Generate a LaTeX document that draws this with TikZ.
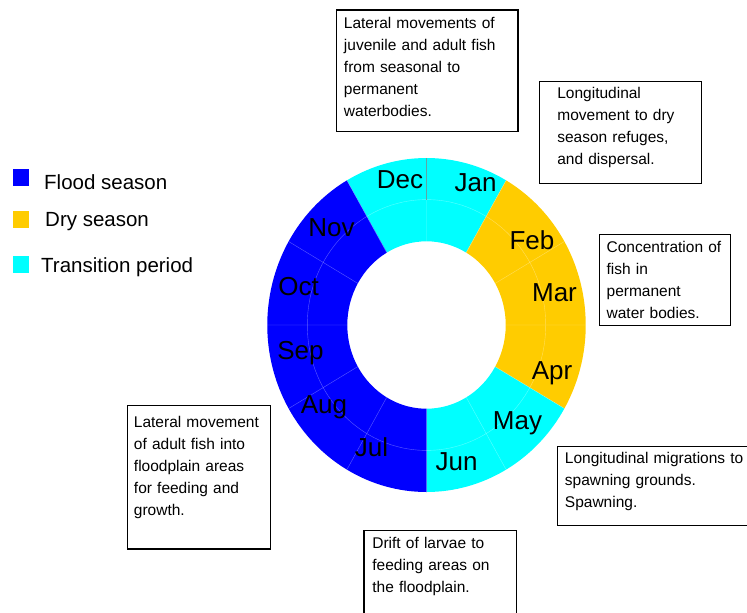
\documentclass[tikz,border=0pt]{standalone}
\usepackage{fontspec}
\setmainfont{Liberation Sans}
\usepackage{xcolor}
\usetikzlibrary{positioning}

\definecolor{floodblue}{HTML}{0000FF}
\definecolor{dryyellow}{HTML}{FFCC00}
\definecolor{transcyan}{HTML}{00FFFF}
\definecolor{tickteal}{HTML}{5FA5A5}

\begin{document}
\begin{tikzpicture}[
  x=1pt, y=-1pt,
  note/.style      ={draw, line width=1.3pt, align=left, anchor=north west,
                     inner ysep=0pt, font=\fontsize{15.5}{22}\selectfont},
  month/.style     ={inner sep=0pt, font=\fontsize{26}{30}\selectfont},
  legendkey/.style ={minimum width=16pt, minimum height=17pt, inner sep=0pt},
  legendtext/.style={anchor=base west, inner sep=0pt, font=\fontsize{20.5}{24}\selectfont},
  faint/.style     ={white, opacity=0.35, line width=0.4pt}
]
\useasboundingbox (0,0) rectangle (747,613);

%--- Seasonal ring ----------------------------------------------------------
\begin{scope}[shift={(426.5,325)}, y=1pt]
\fill[transcyan] (120:159.2 and 167) arc[start angle=120, end angle=60, x radius=159.2, y radius=167]
      -- (60:79.2 and 83.7) arc[start angle=60, end angle=120, x radius=79.2, y radius=83.7] -- cycle;
\fill[dryyellow] (60:159.2 and 167) arc[start angle=60, end angle=-30, x radius=159.2, y radius=167]
      -- (-30:79.2 and 83.7) arc[start angle=-30, end angle=60, x radius=79.2, y radius=83.7] -- cycle;
\fill[transcyan] (-30:159.2 and 167) arc[start angle=-30, end angle=-90, x radius=159.2, y radius=167]
      -- (-90:79.2 and 83.7) arc[start angle=-90, end angle=-30, x radius=79.2, y radius=83.7] -- cycle;
\fill[floodblue] (120:159.2 and 167) arc[start angle=120, end angle=270, x radius=159.2, y radius=167]
      -- (270:79.2 and 83.7) arc[start angle=270, end angle=120, x radius=79.2, y radius=83.7] -- cycle;

% month dividers and middle ring
\draw[faint] (0:159.2 and 167) -- (180:159.2 and 167)
             (30:159.2 and 167) -- (210:159.2 and 167)
             (60:159.2 and 167) -- (240:159.2 and 167)
             (90:159.2 and 167) -- (270:159.2 and 167)
             (120:159.2 and 167) -- (300:159.2 and 167)
             (150:159.2 and 167) -- (330:159.2 and 167);
\draw[faint] (0,0) ellipse[x radius=119.2, y radius=125.4];
\draw[tickteal, line width=0.5pt] (90:119.2 and 125.4) -- (90:159.2 and 167);
\end{scope}

%--- Month labels -----------------------------------------------------------
\node[month] (jan) at (475.5,183) {Jan};
\node[month] (feb) at (532,240)   {Feb};
\node[month] (mar) at (554.5,293) {Mar};
\node[month] (apr) at (552,373)   {Apr};
\node[month] (may) at (517.5,423) {May};
\node[month] (jun) at (456.5,462) {Jun};
\node[month] (jul) at (371.5,447) {Jul};
\node[month] (aug) at (324,407)   {Aug};
\node[month] (sep) at (300.5,353) {Sep};
\node[month] (oct) at (298.5,287) {Oct};
\node[month] (nov) at (331.5,228) {Nov};
\node[month] (dec) at (400,180)   {Dec};

%--- Legend -----------------------------------------------------------------
\node[legendkey, fill=floodblue] (keyflood) at (21,177.5) {};
\node[legendkey, fill=dryyellow] (keydry)   at (21,219.3) {};
\node[legendkey, fill=transcyan] (keytrans) at (21,264.3) {};
\node[legendtext] (txtflood) at (44,189)   {Flood season};
\node[legendtext] (txtdry)   at (45,226)   {Dry season};
\node[legendtext] (txttrans) at (41,272.7) {Transition period};

%--- Fish movement notes ----------------------------------------------------
\node[note, inner xsep=7.6pt, text width=166.4pt, text height=18.4pt, text depth=103.3pt]
  (lateralmoves) at (335.7,9.3)
  {Lateral movements of\\ juvenile and adult fish\\ from seasonal to\\ permanent\\ waterbodies.};

\node[note, inner xsep=17.7pt, text width=126.6pt, text height=17.6pt, text depth=84.4pt]
  (dryrefuge) at (539,80.7)
  {Longitudinal\\ movement to dry\\ season refuges,\\ and dispersal.};

\node[note, inner xsep=7pt, text width=117pt, text height=18.3pt, text depth=72.7pt]
  (concentration) at (599,234)
  {Concentration of\\ fish in\\ permanent\\ water bodies.};

\node[note, inner xsep=7.6pt, text width=183pt, text height=17.6pt, text depth=61.7pt]
  (spawnmigr) at (556.7,445.7)
  {Longitudinal migrations to\\ spawning grounds.\\ Spawning.};

\node[note, inner xsep=8.4pt, text width=135.6pt, text height=18.3pt, text depth=75pt]
  (larvaedrift) at (363.3,530)
  {Drift of larvae to\\ feeding areas on\\ the floodplain.};

\node[note, inner xsep=6.6pt, text width=130.1pt, text height=22.3pt, text depth=121pt]
  (floodfeed) at (126.7,405)
  {Lateral movement\\ of adult fish into\\ floodplain areas\\ for feeding and\\ growth.};
\end{tikzpicture}
\end{document}
